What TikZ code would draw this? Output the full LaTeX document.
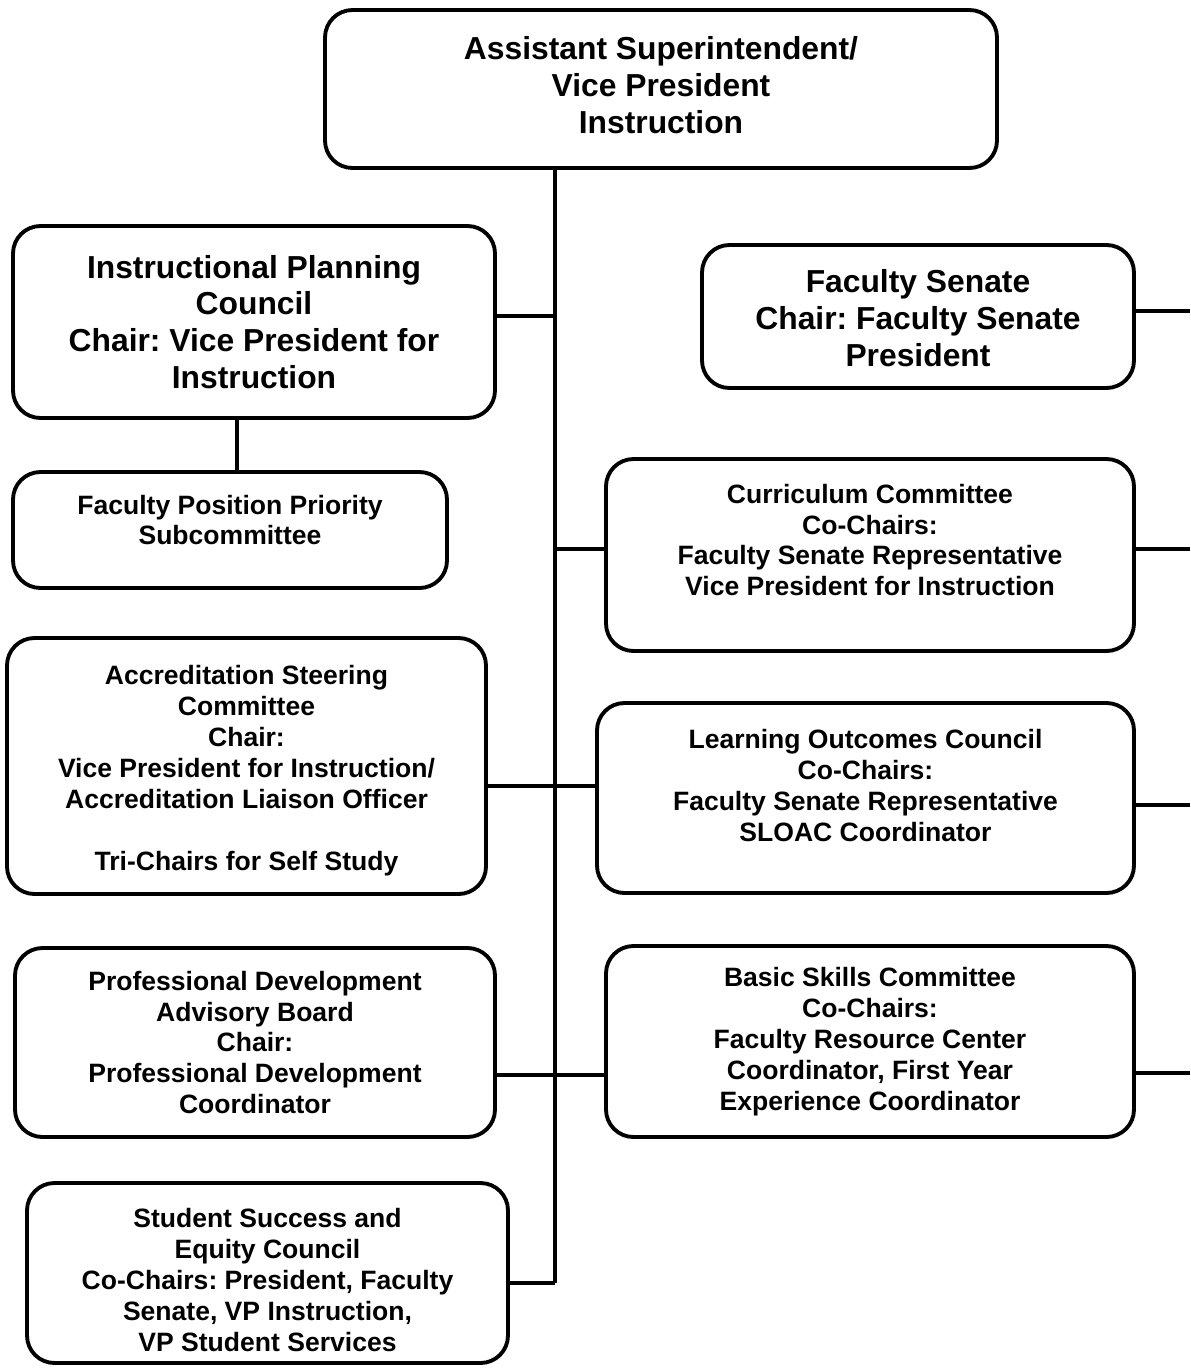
\documentclass[tikz,border=0pt]{standalone}
\usepackage{fontspec}
\setmainfont{Liberation Sans}
\frenchspacing
\usetikzlibrary{calc, positioning}

\begin{document}
\begin{tikzpicture}[box/.style={rectangle, rounded corners=0.55cm, draw, line width=2.2pt, inner sep=0pt},
    big/.style={align=center, font=\bfseries\fontsize{18.1}{21}\selectfont},
    small/.style={align=center, font=\bfseries\fontsize{15.1}{17.6}\selectfont},
    link/.style={line width=2pt}]
    \useasboundingbox (0,0) rectangle (23.8,-27.44);

    \node[box, minimum width=13.44cm, minimum height=3.16cm] (top) at (13.22,-1.78) {};
    \node[box, minimum width=9.64cm, minimum height=3.84cm] (ipc) at (5.08,-6.44) {};
    \node[box, minimum width=8.64cm, minimum height=2.86cm] (fs) at (18.36,-6.33) {};
    \node[box, minimum width=8.68cm, minimum height=2.32cm] (fpp) at (4.6,-10.6) {};
    \node[box, minimum width=10.56cm, minimum height=3.84cm] (cc) at (17.4,-11.1) {};
    \node[box, minimum width=9.58cm, minimum height=5.12cm] (acc) at (4.93,-15.32) {};
    \node[box, minimum width=10.74cm, minimum height=3.8cm] (lo) at (17.31,-15.96) {};
    \node[box, minimum width=9.6cm, minimum height=3.78cm] (pd) at (5.1,-20.85) {};
    \node[box, minimum width=10.56cm, minimum height=3.82cm] (bs) at (17.4,-20.83) {};
    \node[box, minimum width=9.62cm, minimum height=3.6cm] (ss) at (5.35,-25.46) {};

    % texts
    \node[big] (top-t) at ($(top)+(0,0.08)$) {Assistant Superintendent/\\Vice President\\Instruction};
    \node[big] (ipc-t) at (ipc) {Instructional Planning\\Council\\Chair: Vice President for\\Instruction};
    \node[big] (fs-t) at ($(fs)+(0,-0.03)$) {Faculty Senate\\Chair: Faculty Senate\\President};
    \node[small] (fpp-t) at ($(fpp)+(0,0.2)$) {Faculty Position Priority\\Subcommittee};
    \node[small] (cc-t) at ($(cc)+(0,0.3)$) {Curriculum Committee\\Co-Chairs:\\Faculty Senate Representative\\Vice President for Instruction};
    \node[small] (acc-t) at ($(acc)+(0,-0.09)$) {Accreditation Steering\\Committee\\Chair:\\Vice President for Instruction/\\Accreditation Liaison Officer\\[17.6pt]Tri-Chairs for Self Study};
    \node[small] (lo-t) at ($(lo)+(0,0.25)$) {Learning Outcomes Council\\Co-Chairs:\\Faculty Senate Representative\\SLOAC Coordinator};
    \node[small] (pd-t) at (pd) {Professional Development\\Advisory Board\\Chair:\\Professional Development\\Coordinator};
    \node[small] (bs-t) at (bs) {Basic Skills Committee\\Co-Chairs:\\Faculty Resource Center\\Coordinator, First Year\\Experience Coordinator};
    \node[small] (ss-t) at ($(ss)+(0,-0.14)$) {Student Success and\\Equity Council\\Co-Chairs: President, Faculty\\Senate, VP Instruction,\\VP Student Services};

    \coordinate (spbot) at (11.1,-25.66);
    \coordinate (redge) at (23.8,0);
    \coordinate (ipcdrop) at (4.74,-8.36);

    \draw[link] (top.south -| spbot) -- (spbot);
    \draw[link] ([yshift=0.12cm]ipc.east) -- ([yshift=0.12cm]ipc.east -| spbot);
    \draw[link] (ipcdrop) -- (ipcdrop |- fpp.north);
    \draw[link] ([yshift=0.12cm]cc.west) -- ([yshift=0.12cm]cc.west -| spbot);
    \draw[link] ([yshift=-0.4cm]acc.east) -- ([yshift=-0.4cm]acc.east -| lo.west);
    \draw[link] ([yshift=-0.65cm]pd.east) -- ([yshift=-0.65cm]pd.east -| bs.west);
    \draw[link] ([yshift=-0.2cm]ss.east) -- (spbot);

    \draw[link] ([yshift=0.11cm]fs.east) -- ([yshift=0.11cm]fs.east -| redge);
    \draw[link] ([yshift=0.12cm]cc.east) -- ([yshift=0.12cm]cc.east -| redge);
    \draw[link] ([yshift=-0.14cm]lo.east) -- ([yshift=-0.14cm]lo.east -| redge);
    \draw[link] ([yshift=-0.63cm]bs.east) -- ([yshift=-0.63cm]bs.east -| redge);
\end{tikzpicture}
\end{document}
